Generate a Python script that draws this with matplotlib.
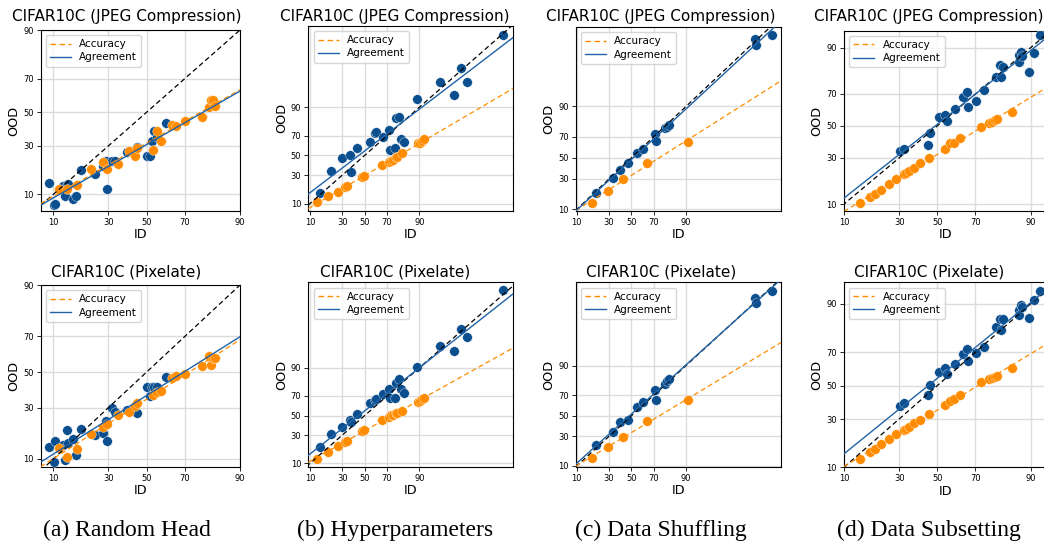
import matplotlib
matplotlib.use("Agg")
import matplotlib.pyplot as plt
from matplotlib.lines import Line2D
import numpy as np
from statistics import NormalDist

# ---------------------------------------------------------------------------
# Data (percent). Each column shares the ID values across both corruptions.
# ---------------------------------------------------------------------------
# (a) Random Head
head_id_agr = [9.1, 10.2, 10.4, 12.4, 13.1, 13.6, 14.1, 15.7, 16.6, 18.3, 23.9, 27.3,
               28.8, 29.2, 31.5, 33.2, 39.5, 44.9, 50.4, 51.8, 52.7, 54.0, 55.5, 60.3]
head_jpeg_agr = [13.5, 7.45, 7.5, 12.6, 9.5, 12.9, 13.2, 8.8, 9.5, 18.2, 16.7, 19.9,
                 22.4, 11.5, 22.1, 22.1, 26.5, 29.3, 24.8, 24.8, 32.4, 38.2, 35.2, 43.6]
head_pix_agr = [13.6, 9.2, 15.6, 14.1, 9.75, 19.7, 14.7, 16.1, 11.1, 20.0, 17.7, 18.6,
                23.7, 15.3, 29.7, 27.6, 28.9, 27.2, 41.2, 36.3, 41.2, 41.2, 41.0, 47.0]
head_id_acc = [11.5, 13.6, 16.8, 22.1, 27.6, 29.2, 34.9, 40.6, 43.8, 44.9, 53.3,
               55.5, 57.6, 63.4, 65.5, 70.1, 77.5, 80.5, 81.0, 82.0, 82.6]
head_jpeg_acc = [11.5, 11.5, 12.7, 18.8, 21.7, 18.9, 21.1, 27.0, 24.8, 28.8, 27.9,
                 38.2, 32.4, 42.2, 41.2, 44.8, 47.3, 53.5, 57.6, 57.6, 53.9]
head_pix_acc = [13.1, 10.6, 12.7, 18.0, 21.1, 22.2, 26.1, 27.6, 30.9, 32.3, 36.5,
                38.2, 38.7, 46.5, 47.4, 49.0, 53.7, 59.2, 54.3, 58.2, 58.2]

# (b) Hyperparameters
hyper_id_agr = [14.9, 21.7, 30.0, 36.2, 37.7, 42.9, 55.3, 59.3, 60.8, 66.6, 71.6, 72.1,
                76.6, 79.0, 76.1, 80.5, 82.0, 89.1, 96.1, 98.15, 98.83, 99.18, 99.94]
hyper_jpeg_agr = [15.6, 34.2, 46.8, 50.4, 33.2, 57.4, 63.5, 72.7, 73.5, 68.4, 75.0, 55.6,
                  83.7, 84.8, 57.7, 66.5, 63.5, 93.2, 97.5, 94.6, 99.0, 97.5, 99.93]
hyper_pix_agr = [19.8, 30.9, 38.4, 45.4, 42.9, 51.8, 62.9, 66.3, 67.6, 71.9, 76.0, 67.9,
                 81.2, 83.5, 67.9, 76.0, 73.1, 90.2, 96.8, 95.8, 98.99, 98.2, 99.96]
hyper_id_acc = [13.2, 19.7, 26.6, 31.9, 33.9, 47.8, 49.4, 66.1, 71.6, 73.4, 74.7,
                77.1, 77.6, 81.1, 89.4, 90.1, 91.2, 91.8]
hyper_jpeg_acc = [10.9, 14.0, 16.7, 19.7, 20.7, 27.9, 29.1, 39.5, 42.6, 44.4, 45.1,
                  47.9, 48.6, 52.1, 62.5, 63.2, 65.2, 66.5]
hyper_pix_acc = [12.1, 16.7, 20.8, 24.3, 25.1, 34.1, 35.0, 45.4, 48.9, 50.4, 51.1,
                 52.5, 53.2, 55.3, 64.6, 65.6, 66.9, 67.9]

# (c) Data Shuffling
shuffle_id_agr = [20.2, 33.1, 39.5, 46.6, 55.0, 61.1, 71.1, 71.6, 78.5, 79.6, 81.1,
                  99.81, 99.83, 99.95]
shuffle_jpeg_agr = [19.4, 31.2, 38.2, 44.7, 54.6, 58.9, 72.3, 66.4, 77.0, 78.3, 79.5,
                    99.85, 99.76, 99.89]
shuffle_pix_agr = [22.5, 33.9, 43.6, 45.3, 59.1, 63.9, 74.1, 65.8, 79.2, 81.1, 82.7,
                   99.87, 99.80, 99.93]
shuffle_id_acc = [17.6, 28.9, 42.0, 64.6, 90.9]
shuffle_jpeg_acc = [13.2, 20.8, 30.0, 45.4, 65.8]
shuffle_pix_acc = [13.9, 21.5, 29.6, 44.6, 65.8]

# (d) Data Subsetting
subset_id_agr = [30.6, 32.2, 44.9, 46.2, 50.7, 54.4, 55.3, 59.8, 63.6, 65.8, 66.2, 70.2,
                 74.1, 79.0, 80.6, 81.0, 81.5, 86.8, 87.0, 87.6, 87.9, 89.5, 90.9, 92.0]
subset_jpeg_agr = [34.2, 35.2, 37.7, 45.1, 56.0, 57.1, 53.4, 60.7, 68.4, 71.2, 62.3, 65.8,
                   72.1, 79.0, 84.1, 78.7, 83.4, 87.7, 85.4, 88.8, 87.4, 81.3, 88.3, 93.2]
subset_pix_agr = [37.5, 39.5, 44.2, 50.4, 58.3, 60.7, 57.3, 63.3, 69.0, 71.6, 65.1, 69.8,
                  72.9, 82.0, 85.1, 80.9, 85.1, 88.2, 86.6, 89.7, 89.0, 85.5, 91.0, 93.2]
subset_id_acc = [14.5, 17.9, 19.5, 22.1, 25.2, 28.7, 32.2, 33.4, 34.7, 37.3, 40.8,
                 45.6, 54.0, 57.1, 58.9, 62.4, 72.7, 76.2, 77.4, 78.4, 79.4, 84.9]
subset_jpeg_acc = [10.4, 12.1, 13.2, 14.6, 16.9, 19.0, 21.3, 21.8, 23.1, 24.6, 26.9,
                   29.7, 35.0, 38.7, 39.1, 41.9, 49.5, 52.1, 52.5, 53.8, 54.3, 58.8]
subset_pix_acc = [12.5, 15.0, 15.9, 17.9, 20.1, 22.2, 24.3, 24.8, 25.7, 27.7, 29.5,
                  32.8, 38.1, 40.7, 41.5, 44.2, 52.1, 54.2, 55.0, 55.6, 56.2, 61.1]

tick_values = [10, 30, 50, 70, 90]
tick_labels = ["10", "30", "50", "70", "90"]
row_titles = ["CIFAR10C (JPEG Compression)", "CIFAR10C (Pixelate)"]
captions = ["(a) Random Head", "(b) Hyperparameters", "(c) Data Shuffling",
            "(d) Data Subsetting"]

# ---------------------------------------------------------------------------
# Probit scale helpers
# ---------------------------------------------------------------------------
_nd = NormalDist()


def probit(p):
    p = np.asarray(p, dtype=float)
    out = [_nd.inv_cdf(min(max(v / 100.0, 1e-12), 1 - 1e-12)) for v in p.ravel()]
    return np.array(out).reshape(p.shape)


def inv_probit(z):
    z = np.asarray(z, dtype=float)
    out = [100.0 * _nd.cdf(v) for v in z.ravel()]
    return np.array(out).reshape(z.shape)


# ---------------------------------------------------------------------------
# Layout (pixels on a 1044 x 548 canvas) and axis ranges in probit units
# ---------------------------------------------------------------------------
W, H = 1044, 548
# (left, right, top, bottom) in pixels
boxes = [
    [(40.7, 240.0, 30.0, 211.0), (308.3, 513.3, 26.0, 210.7),
     (575.7, 781.0, 27.0, 210.7), (844.0, 1046.5, 30.7, 210.7)],
    [(40.7, 240.0, 285.0, 466.7), (308.3, 513.3, 282.3, 466.7),
     (575.7, 781.0, 282.3, 466.7), (844.0, 1046.5, 282.3, 467.3)],
]
xlims = [(-1.455, 1.2816), (-1.32, 3.48), (-1.305, 3.51), (-1.2816, 1.50)]
ylims = [
    [(-1.541, 1.2816), (-1.47, 3.44), (-1.314, 3.26), (-1.39, 1.56)],
    [(-1.395, 1.2816), (-1.37, 3.57), (-1.30, 3.41), (-1.2816, 1.62)],
]
col_centers = [126.5, 395.0, 661.0, 929.0]
title_y = [16.0, 272.0]

columns = [
    (head_id_acc, head_id_agr, [head_jpeg_acc, head_pix_acc], [head_jpeg_agr, head_pix_agr]),
    (hyper_id_acc, hyper_id_agr, [hyper_jpeg_acc, hyper_pix_acc], [hyper_jpeg_agr, hyper_pix_agr]),
    (shuffle_id_acc, shuffle_id_agr, [shuffle_jpeg_acc, shuffle_pix_acc],
     [shuffle_jpeg_agr, shuffle_pix_agr]),
    (subset_id_acc, subset_id_agr, [subset_jpeg_acc, subset_pix_acc],
     [subset_jpeg_agr, subset_pix_agr]),
]

BLUE_PT = "#0b4f8f"
BLUE_LN = "#2163a6"
ORANGE = "#ff8c00"

fig = plt.figure(figsize=(W / 100, H / 100), dpi=100)


def fit_line(ax, x, y, xlim, **kw):
    zx, zy = probit(x), probit(y)
    m, b = np.polyfit(zx, zy, 1)
    xs = np.array(xlim)
    ax.plot(inv_probit(xs), inv_probit(m * xs + b), **kw)


for r in range(2):
    for c in range(4):
        l, rr, t, bt = boxes[r][c]
        ax = fig.add_axes([l / W, 1 - bt / H, (rr - l) / W, (bt - t) / H])
        ax.set_xscale("function", functions=(probit, inv_probit))
        ax.set_yscale("function", functions=(probit, inv_probit))

        id_acc, id_agr, ood_acc_rows, ood_agr_rows = columns[c]
        ood_acc = ood_acc_rows[r]
        ood_agr = ood_agr_rows[r]

        ax.scatter(id_agr, ood_agr, s=48, color=BLUE_PT, edgecolors="white",
                   linewidths=0.25, zorder=3)
        ax.scatter(id_acc, ood_acc, s=48, color=ORANGE, edgecolors="white",
                   linewidths=0.25, zorder=3)

        xl = xlims[c]
        yl = ylims[r][c]
        diag = np.array([min(xl[0], yl[0]), max(xl[1], yl[1])])
        ax.plot(inv_probit(diag), inv_probit(diag), color="black", ls=(0, (4, 2.5)),
                lw=0.9, zorder=4)
        fit_line(ax, id_acc, ood_acc, xl, color=ORANGE, ls=(0, (4, 2.5)), lw=0.9, zorder=4)
        fit_line(ax, id_agr, ood_agr, xl, color=BLUE_LN, lw=1.0, zorder=4)

        ax.set_xlim(inv_probit(np.array(xl)))
        ax.set_ylim(inv_probit(np.array(yl)))
        ax.set_xticks(tick_values)
        ax.set_xticklabels(tick_labels)
        ax.set_yticks(tick_values)
        ax.set_yticklabels(tick_labels)
        ax.minorticks_off()
        ax.tick_params(labelsize=6, length=3, width=0.6, pad=2)
        ax.grid(True, color="#dcdcdc", lw=1.0, zorder=0)
        ax.set_axisbelow(True)
        for sp in ax.spines.values():
            sp.set_linewidth(0.8)
        ax.set_xlabel("ID", fontsize=9.2, labelpad=1)
        ax.set_ylabel("OOD", fontsize=9.2, labelpad=2)

        handles = [Line2D([], [], color=ORANGE, ls=(0, (4, 2.5)), lw=1.0),
                   Line2D([], [], color=BLUE_LN, lw=1.0)]
        ax.legend(handles, ["Accuracy", "Agreement"], loc="upper left", fontsize=7.5,
                  handlelength=2.0, borderpad=0.4, labelspacing=0.3, framealpha=0.8)

        fig.text(col_centers[c] / W, 1 - title_y[r] / H, row_titles[r], fontsize=11,
                 ha="center", va="center")

for c in range(4):
    fig.text(col_centers[c] / W, 1 - 530 / H, captions[c], fontsize=17,
             family="Liberation Serif", ha="center", va="center")

fig.savefig("out.png", dpi=100)
